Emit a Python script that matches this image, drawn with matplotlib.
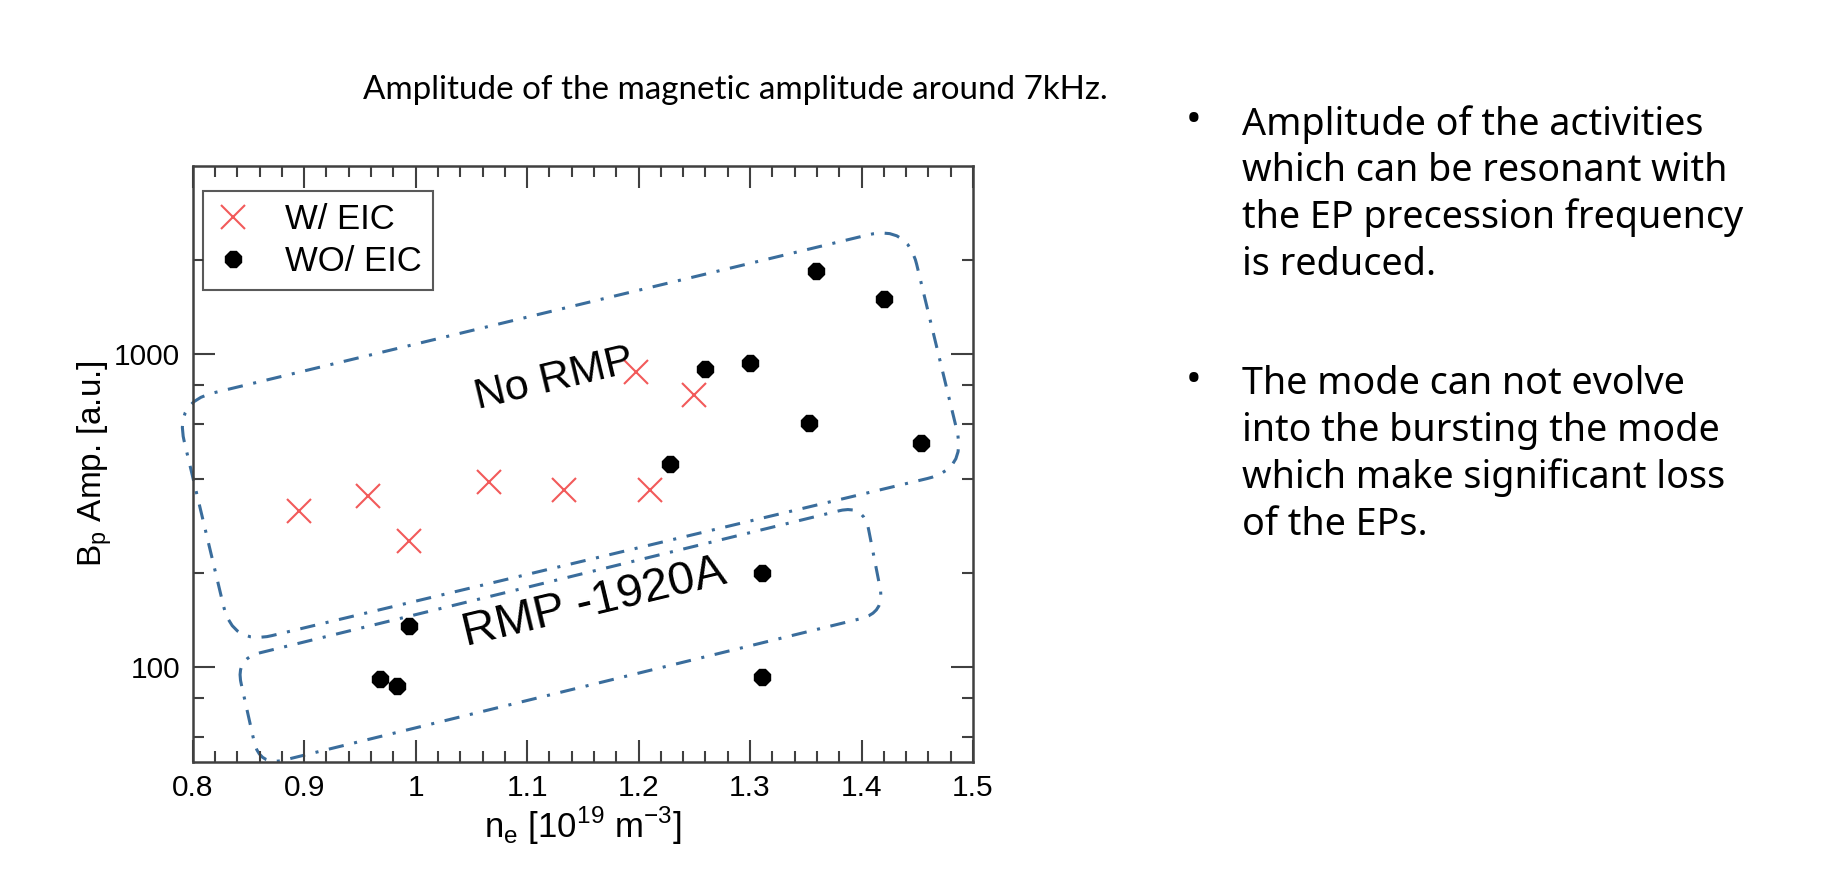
import numpy as np
import matplotlib
matplotlib.use('Agg')
import matplotlib.pyplot as plt
from matplotlib.path import Path
from matplotlib.patches import PathPatch
from matplotlib.ticker import FixedLocator, NullFormatter, MultipleLocator

# точки с EIC (красные крестики)
ne_eic = [0.895, 0.957, 0.994, 1.066, 1.133, 1.210, 1.198, 1.250]
amp_eic = [317, 354, 254, 392, 370, 370, 876, 743]
# точки без EIC (чёрные кружки)
ne_wo = [0.968, 0.983, 0.994, 1.228, 1.260, 1.300, 1.359, 1.420, 1.353, 1.453, 1.311, 1.311]
amp_wo = [92, 87, 136, 448, 899, 938, 1852, 1507, 605, 523, 201, 93]

# углы рамок (в координатах данных)
box_norm_x = [0.784, 1.441, 1.494, 0.836]
box_norm_y = [704, 2584, 430, 118]
box_rmp_x = [0.8385, 1.402, 1.421, 0.860]
box_rmp_y = [106.6, 331, 149.6, 48.4]

xticks = [0.8, 0.9, 1.0, 1.1, 1.2, 1.3, 1.4, 1.5]
xticklabels = ['0.8', '0.9', '1', '1.1', '1.2', '1.3', '1.4', '1.5']
yticks = [100, 1000]
yminor = [60, 80, 200, 400, 600, 800, 2000]

title = 'Amplitude of the magnetic amplitude around 7kHz.'
bullet1 = ['Amplitude of the activities', 'which can be resonant with',
           'the EP precession frequency', 'is reduced.']
bullet2 = ['The mode can not evolve', 'into the bursting the mode',
           'which make significant loss', 'of the EPs.']

plt.rcParams['font.family'] = ['Liberation Sans', 'DejaVu Sans']
plt.rcParams['axes.unicode_minus'] = False

W, H = 1827, 891
fig = plt.figure(figsize=(W / 100, H / 100), dpi=100)
ax = fig.add_axes([192.7 / W, 1 - 761.7 / H, 780.3 / W, 595.7 / H])

ax.plot(ne_eic, amp_eic, 'x', color='#f25a5a', ms=17, mew=1.5, ls='none', label='W/ EIC')
ax.plot(ne_wo, amp_wo, '8', color='black', ms=13, ls='none', label='WO/ EIC')

ax.set_yscale('log')
ax.set_xlim(0.8, 1.5)
ax.set_ylim(50, 4000)
ax.set_yticks(yticks)
ax.set_yticklabels([str(v) for v in yticks], fontsize=21.5)
ax.yaxis.set_minor_locator(FixedLocator(yminor))
ax.yaxis.set_minor_formatter(NullFormatter())
ax.set_xticks(xticks)
ax.set_xticklabels(xticklabels, fontsize=21.5)
ax.xaxis.set_minor_locator(MultipleLocator(0.02))

ax.tick_params(which='both', direction='in', top=True, right=True, color='#404040', width=1.5)
ax.tick_params(which='major', length=16, pad=9)
ax.tick_params(which='minor', length=8)
for s in ax.spines.values():
    s.set_color('#404040')
    s.set_linewidth(1.8)

ax.set_xlabel('n$_\\mathregular{e}$ [10$^\\mathregular{19}$ m$^\\mathregular{-3}$]', fontsize=25, labelpad=2)
ax.set_ylabel('B$_\\mathregular{p}$ Amp. [a.u.]', fontsize=24, labelpad=0)

leg = ax.legend(loc='upper left', bbox_to_anchor=(0.0132, 0.958), borderaxespad=0,
                fontsize=25, fancybox=False, edgecolor='#303030', handlelength=1.0,
                handletextpad=1.0, borderpad=0.35, labelspacing=0.25)
leg.get_frame().set_linewidth(1.5)


def rounded_box(xs, ys, r):
    pts = ax.transData.transform(np.column_stack([xs, ys]))
    n = len(pts)
    verts, codes = [], []
    for i in range(n):
        c = pts[i]
        p = pts[i - 1]
        q = pts[(i + 1) % n]
        a = c + r * (p - c) / np.linalg.norm(p - c)
        b = c + r * (q - c) / np.linalg.norm(q - c)
        verts += [a, c, b]
        codes += [Path.MOVETO if i == 0 else Path.LINETO, Path.CURVE3, Path.CURVE3]
    verts.append(verts[0])
    codes.append(Path.LINETO)
    verts = ax.transAxes.inverted().transform(np.array(verts))
    patch = PathPatch(Path(verts, codes), transform=ax.transAxes, fill=False,
                      edgecolor='#3a6d9c', lw=2.2, ls=(0, (5, 3.5, 1, 3.5)), clip_on=False)
    ax.add_patch(patch)


rounded_box(box_norm_x, box_norm_y, 40)
rounded_box(box_rmp_x, box_rmp_y, 25)

ax.text(1.1248, 831, 'No RMP', fontsize=31, rotation=13.5, ha='center', va='center',
        rotation_mode='anchor')
ax.text(1.160, 160.7, 'RMP -1920A', fontsize=34, rotation=13.5, ha='center', va='center',
        rotation_mode='anchor')

r = fig.canvas.get_renderer()


def fit(t, width_px):
    w = t.get_window_extent(r).width
    t.set_fontsize(t.get_fontsize() * width_px / w)


t = fig.text(735.5 / W, 1 - 90 / H, title, ha='center', va='center', fontsize=20, family='Lato')
fit(t, 747)

lines = []
for k, s in enumerate(bullet1):
    lines.append(fig.text(1242 / W, 1 - (134.5 + 46.8 * k) / H, s, fontsize=26,
                          family='Noto Sans', va='baseline'))
for k, s in enumerate(bullet2):
    lines.append(fig.text(1242 / W, 1 - (394.5 + 46.8 * k) / H, s, fontsize=26,
                          family='Noto Sans', va='baseline'))
fit(lines[2], 502)
for t in lines:
    t.set_fontsize(lines[2].get_fontsize())
for y in [121, 381]:
    fig.text(1194 / W, 1 - y / H, '•', fontsize=30, ha='center', va='center', family='Noto Sans')

fig.savefig('out.png', dpi=100)
